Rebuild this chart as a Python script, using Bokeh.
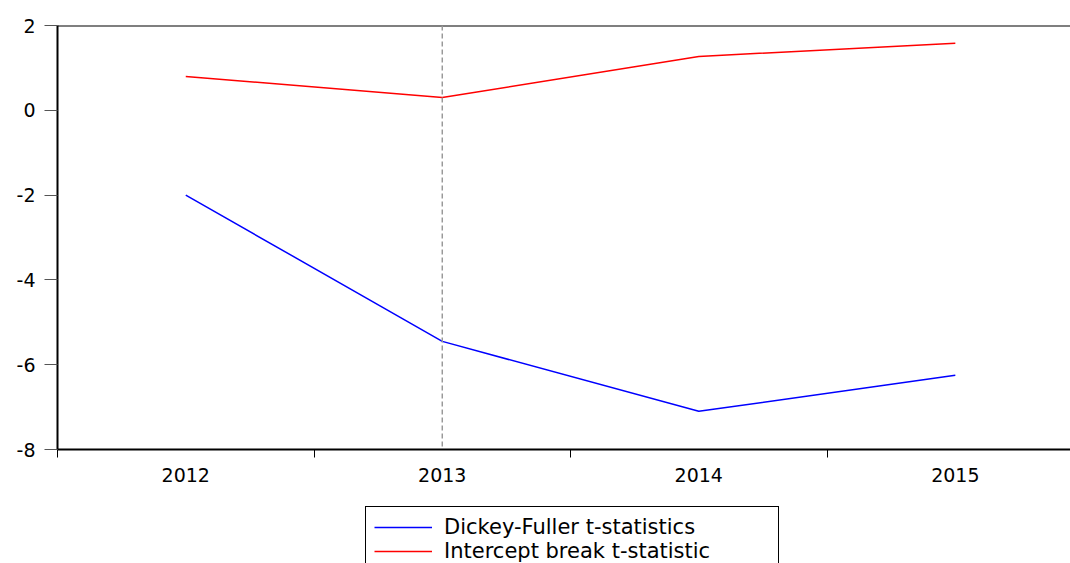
from bokeh.plotting import figure
from bokeh.layouts import column
from bokeh.models import Range1d, FixedTicker, Span, Legend, LegendItem
from bokeh.embed import file_html
from bokeh.resources import INLINE

# Break-point test statistics by year
years = [2012, 2013, 2014, 2015]
year_labels = ["2012", "2013", "2014", "2015"]
dickey_fuller = [-2.0, -5.45, -7.1, -6.25]
intercept_break = [0.8, 0.3, 1.27, 1.58]
break_year = 2013
y_ticks = [-8, -6, -4, -2, 0, 2]
series_names = ["Dickey-Fuller t-statistics", "Intercept break t-statistic"]
series_values = [dickey_fuller, intercept_break]
series_colors = ["#0000FF", "#FF0000"]

FONT = "DejaVu Sans"
LEFT = 57

p = figure(
    width=1070, height=500,
    x_range=Range1d(2011.5, 2015.449),
    y_range=Range1d(-8, 2),
    output_backend="svg", toolbar_location=None,
    min_border_left=LEFT, min_border_right=0, min_border_top=25, min_border_bottom=51,
)
p.grid.visible = False
p.outline_line_color = None
p.background_fill_color = "white"
p.border_fill_color = "white"

# y axis
yax = p.yaxis[0]
yax.ticker = FixedTicker(ticks=y_ticks)
yax.major_label_overrides = {t: str(t) for t in y_ticks}
yax.axis_line_color = "black"
yax.axis_line_width = 2
yax.major_tick_in = 0
yax.major_tick_out = 13
yax.major_tick_line_color = "#555555"
yax.minor_tick_line_color = None
yax.major_label_standoff = 9
yax.major_label_text_font = FONT
yax.major_label_text_font_size = "19px"
yax.major_label_text_color = "black"

# x axis: labels centred on years, tick marks between them
xax = p.xaxis[0]
bounds = [y - 0.5 for y in years] + [years[-1] + 0.5]
xax.ticker = FixedTicker(ticks=years, minor_ticks=bounds)
xax.major_label_overrides = {y: s for y, s in zip(years, year_labels)}
xax.axis_line_color = "black"
xax.axis_line_width = 2
xax.major_tick_line_color = None
xax.major_tick_out = 0
xax.major_tick_in = 0
xax.minor_tick_in = 0
xax.minor_tick_out = 8
xax.minor_tick_line_color = "black"
xax.minor_tick_line_width = 1
xax.major_label_standoff = 10
xax.major_label_text_font = FONT
xax.major_label_text_font_size = "19px"
xax.major_label_text_color = "black"

# top border
p.add_layout(Span(location=2, dimension="width", line_color="black", line_width=2))

# break date marker
p.add_layout(Span(location=break_year, dimension="height", line_color="#999999",
                  line_width=1.5, line_dash="5 3"))

for vals, color in zip(series_values, series_colors):
    p.line(years, vals, line_color=color, line_width=1.5)

# legend strip under the chart (its frame is aligned with the chart's frame)
leg = figure(
    width=1070, height=63,
    x_range=Range1d(0, 1), y_range=Range1d(0, 1),
    output_backend="svg", toolbar_location=None,
    min_border_left=LEFT, min_border_right=0, min_border_top=0, min_border_bottom=0,
)
leg.axis.visible = False
leg.grid.visible = False
leg.outline_line_color = None
leg.border_fill_color = "white"
leg.background_fill_color = "white"

items = []
for name, vals, color in zip(series_names, series_values, series_colors):
    # same series, kept outside this strip's ranges; only the legend swatch shows
    r = leg.line(years, vals, line_color=color, line_width=1.5)
    items.append(LegendItem(label=name, renderers=[r]))

legend = Legend(
    items=items,
    location=(365 - LEFT, -9),
    orientation="vertical",
    border_line_color="black",
    border_line_alpha=1.0,
    border_line_width=1.2,
    label_text_font=FONT,
    label_text_font_size="21px",
    label_text_color="black",
    label_height=24,
    label_width=326,
    glyph_height=24,
    glyph_width=58,
    label_standoff=12,
    spacing=0,
    padding=8,
    margin=0,
    background_fill_alpha=1,
)
leg.add_layout(legend, "center")

layout = column(p, leg, spacing=0)
open("out.html", "w").write(file_html(layout, INLINE))
